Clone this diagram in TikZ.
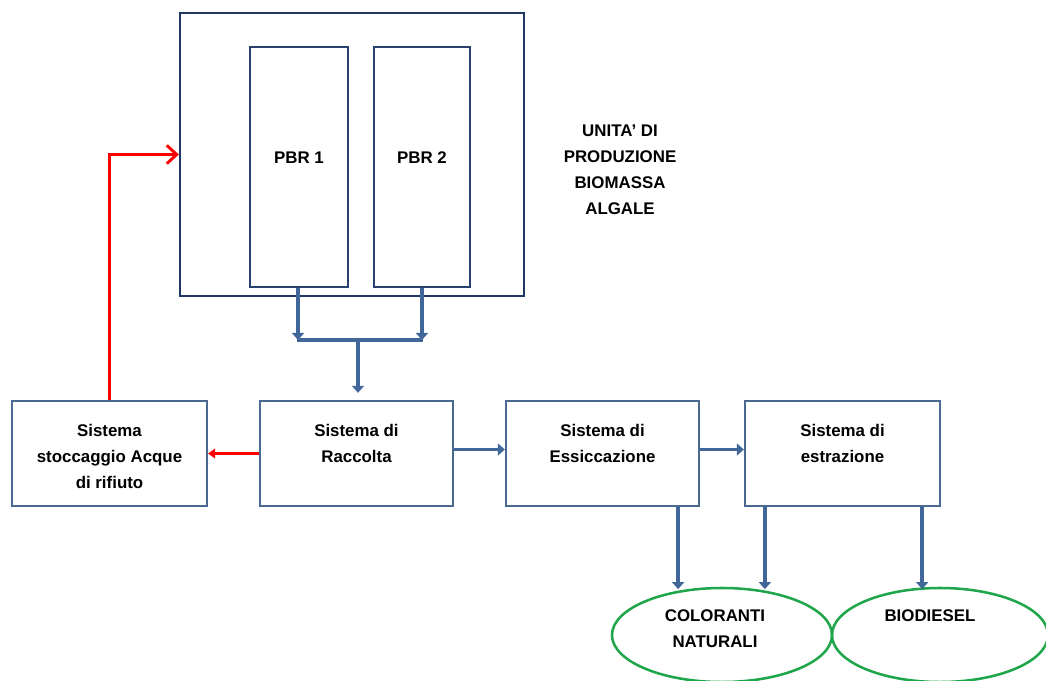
\documentclass[tikz,border=0pt]{standalone}
\usepackage{fontspec}
\setmainfont{Liberation Sans}
\usetikzlibrary{arrows.meta,positioning,shapes.geometric}
\definecolor{navy}{HTML}{1F3864}
\definecolor{boxline}{HTML}{4A6A91}
\definecolor{flowblue}{HTML}{41679A}
\definecolor{prodgreen}{HTML}{1FA64A}
\tikzset{
  lbl/.style={inner sep=0pt,align=center,font=\bfseries\fontsize{12}{18.6}\selectfont},
  sysbox/.style={draw=boxline,line width=1.6pt,minimum height=2.625cm,inner sep=0pt},
  reactor/.style={draw=navy!80!boxline,line width=1.4pt,minimum height=6cm,inner sep=0pt},
  product/.style={ellipse,draw=prodgreen,line width=1.8pt,minimum width=5.5cm,minimum height=2.35cm,inner sep=0pt},
  flow/.style={draw=flowblue,line width=2.8pt,-{Triangle[length=5pt,width=8.5pt]}},
  recycle/.style={draw=red,line width=2.1pt},
}
\begin{document}
\begin{tikzpicture}[x=0.025cm,y=-0.025cm]
				\useasboundingbox (0,0) rectangle (1046,680);
				\clip (0,0) rectangle (1046,680);
				% production unit
				\node[draw=navy,line width=1.6pt,minimum width=8.6cm,minimum height=7.075cm,inner sep=0pt] (unita) at (352,154.5) {};
				\node[reactor,minimum width=2.45cm] (pbr1) at (299,167) {};
				\node[reactor,minimum width=2.4cm] (pbr2) at (422,167) {};
				\node[lbl] (pbr1t) at ([yshift=0.225cm]pbr1.center) {PBR 1};
				\node[lbl] (pbr2t) at ([yshift=0.225cm]pbr2.center) {PBR 2};
				\node[lbl] (unitat) at (620,170) {UNITA’ DI\\PRODUZIONE\\BIOMASSA\\ALGALE};
				% systems
				\node[sysbox,minimum width=4.875cm] (stocc) at (109.5,453.5) {};
				\node[sysbox,minimum width=4.825cm] (racc) at (356.5,453.5) {};
				\node[sysbox,minimum width=4.825cm] (essic) at (602.5,453.5) {};
				\node[sysbox,minimum width=4.875cm] (estr) at (842.5,453.5) {};
				\node[lbl,below=0.6cm of stocc.north] (stocct) {Sistema\\stoccaggio Acque\\di rifiuto};
				\node[lbl,below=0.6cm of racc.north] (racct) {Sistema di\\Raccolta};
				\node[lbl,below=0.6cm of essic.north] (essict) {Sistema di\\Essiccazione};
				\node[lbl,below=0.6cm of estr.north] (estrt) {Sistema di\\estrazione};
				% products
				\node[product] (color) at (722,635) {};
				\node[product,minimum width=5.4cm] (biod) at (940,635) {};
				\node[lbl] (colort) at (715,629) {COLORANTI\\NATURALI};
				\node[lbl] (biodt) at (930,616) {BIODIESEL};
				% flows
				\coordinate (mL) at (298,340);
				\coordinate (mR) at (422,340);
				\coordinate (mC) at (358,340);
				\draw[flow] (pbr1.south -| mL) -- (mL);
				\draw[flow] (pbr2.south -| mR) -- (mR);
				\draw[flow,-] ([xshift=-1pt]mL) -- ([xshift=1pt]mR);
				\draw[flow,shorten >=5pt] (mC) -- (mC |- racc.north);
				\draw[flow] ([yshift=0.1cm]racc.east) -- ([yshift=0.1cm]essic.west);
				\draw[flow] ([yshift=0.1cm]essic.east) -- ([yshift=0.1cm]estr.west);
				\draw[flow] ([xshift=1.89cm]essic.south) -- ++(0,82);
				\draw[flow] ([xshift=-1.94cm]estr.south) -- ++(0,82);
				\draw[flow] ([xshift=1.99cm]estr.south) -- ++(0,82);
				% recycle
				\draw[recycle,-{Triangle[length=5pt,width=7pt]}] (racc.west) -- (stocc.east);
				\draw[recycle,-{Straight Barb[length=7pt,width=13pt]}] (stocc.north) |- (unita.west);
\end{tikzpicture}
\end{document}
